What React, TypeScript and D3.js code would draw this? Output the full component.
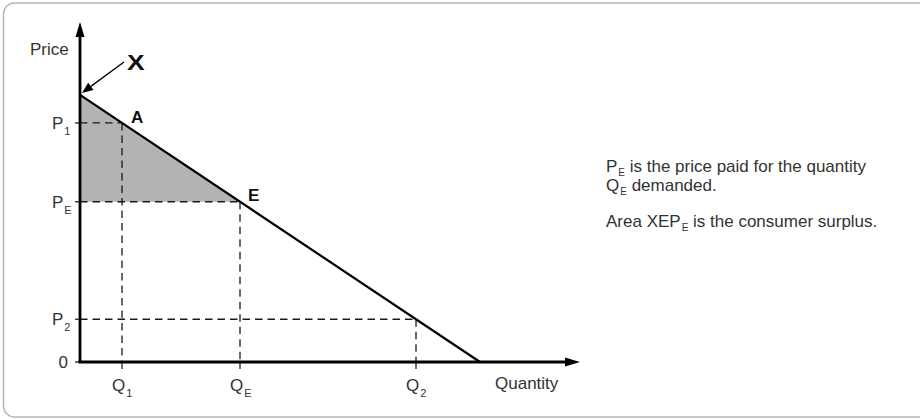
import React from "react";
import * as d3 from "d3";

// Linear demand curve P = 10 - Q
const demandIntercept = 10;
const demandPoints = [
  { q: 0, p: 10 },
  { q: 10, p: 0 },
];

// Reference quantities and their labels
const quantityLabels = ["Q1", "QE", "Q2"];
const quantityValues = [1.05, 4, 8.4];

// Horizontal price guides
const priceLabels = ["P1", "PE", "P2", "0"];
const priceValues = [8.95, 6, 1.6, 0];

// Consumer surplus region: intercept, equilibrium, price line at PE
const surplusPolygon = [
  { q: 0, p: 10 },
  { q: 4, p: 6 },
  { q: 0, p: 6 },
];

const FONT = "'Liberation Sans', Arial, Helvetica, sans-serif";
const TEXT = "#333";

function Sub({ x, y, base, sub, size = 17, subSize = 11, dy = 6 }: any) {
  return (
    <text x={x} y={y} fontFamily={FONT} fontSize={size} fill={TEXT}>
      {base}
      <tspan fontSize={subSize} dx={1} dy={dy}>{sub}</tspan>
    </text>
  );
}

export default function App() {
  const W = 920;
  const H = 419;
  const x = d3.scaleLinear().domain([0, 12.5]).range([80, 580]);
  const y = d3.scaleLinear().domain([0, 12.73]).range([362, 22]);

  const line = d3
    .line<{ q: number; p: number }>()
    .x((d) => x(d.q))
    .y((d) => y(d.p));

  const x0 = x(0);
  const y0 = y(0);
  const xEnd = x(12.5);
  const yTop = y(12.73);

  const dash = "7.5,5";

  // Arrow pointing at the demand intercept
  const tip = { x: x(0) + 2, y: y(demandIntercept) - 2 };
  const tail = { x: 124, y: 62 };
  const ang = Math.atan2(tip.y - tail.y, tip.x - tail.x);
  const ah = 11;
  const aw = 4.5;
  const bx = tip.x - ah * Math.cos(ang);
  const by = tip.y - ah * Math.sin(ang);
  const arrowHead = [
    [tip.x, tip.y],
    [bx + aw * Math.sin(ang), by - aw * Math.cos(ang)],
    [bx - aw * Math.sin(ang), by + aw * Math.cos(ang)],
  ];

  const qE = quantityValues[1];
  const pE = demandIntercept - qE;
  const q1 = quantityValues[0];
  const p1 = demandIntercept - q1;

  return (
    <svg
      width={W}
      height={H}
      style={{ position: "absolute", left: 0, top: 0, background: "#fff" }}
    >
      <rect x={3.5} y={3} width={940} height={414} rx={11} ry={11} fill="#fff" stroke="#b8b8b8" strokeWidth={1.5} />

      {/* consumer surplus */}
      <path d={line(surplusPolygon) + "Z"} fill="#b3b3b5" />

      {/* dashed guides */}
      {priceValues.slice(0, 3).map((p, i) => {
        const q = demandIntercept - p;
        return (
          <line key={"h" + i} x1={x0} x2={x(q)} y1={y(p)} y2={y(p)} stroke="#1a1a1a" strokeWidth={1.3} strokeDasharray={dash} />
        );
      })}
      {quantityValues.map((q, i) => {
        const p = demandIntercept - q;
        return (
          <line key={"v" + i} x1={x(q)} x2={x(q)} y1={y(p)} y2={y0} stroke="#1a1a1a" strokeWidth={1.3} strokeDasharray={dash} />
        );
      })}

      {/* ticks */}
      {priceValues.map((p, i) => (
        <line key={"yt" + i} x1={x0 - 5} x2={x0} y1={y(p)} y2={y(p)} stroke="#222" strokeWidth={1.3} />
      ))}
      {quantityValues.map((q, i) => (
        <line key={"xt" + i} x1={x(q)} x2={x(q)} y1={y0} y2={y0 + 7} stroke="#222" strokeWidth={1.3} />
      ))}

      {/* demand curve */}
      <path d={line(demandPoints) || ""} fill="none" stroke="#000" strokeWidth={2.2} />

      {/* axes */}
      <line x1={x0} x2={x0} y1={y0 + 1} y2={yTop + 12} stroke="#000" strokeWidth={2.8} />
      <polygon points={`${x0},${yTop} ${x0 - 4.5},${yTop + 15} ${x0 + 4.5},${yTop + 15}`} fill="#000" />
      <line x1={x0 - 1.4} x2={xEnd - 12} y1={y0} y2={y0} stroke="#000" strokeWidth={2.8} />
      <polygon points={`${xEnd},${y0} ${xEnd - 15},${y0 - 4.5} ${xEnd - 15},${y0 + 4.5}`} fill="#000" />

      {/* X pointer */}
      <line x1={tail.x} y1={tail.y} x2={bx} y2={by} stroke="#000" strokeWidth={1.3} />
      <polygon points={arrowHead.map((d) => d.join(",")).join(" ")} fill="#000" />
      <text x={127} y={70} fontFamily={FONT} fontSize={22} fontWeight="bold" fill="#111" transform="translate(127,70) scale(1.2,1) translate(-127,-70)">X</text>

      {/* point labels */}
      <text x={x(q1) + 9} y={y(p1)} fontFamily={FONT} fontSize={17} fontWeight="bold" fill="#111">A</text>
      <text x={x(qE) + 8} y={y(pE) - 1} fontFamily={FONT} fontSize={17} fontWeight="bold" fill="#111">E</text>

      {/* axis titles */}
      <text x={30} y={55} fontFamily={FONT} fontSize={17} fill={TEXT}>Price</text>
      <text x={495} y={389} fontFamily={FONT} fontSize={17} fill={TEXT}>Quantity</text>

      {/* price labels */}
      {priceLabels.map((lab, i) =>
        lab === "0" ? (
          <text key={lab} x={x0 - 12} y={y(priceValues[i]) + 6} fontFamily={FONT} fontSize={17} fill={TEXT} textAnchor="end">0</text>
        ) : (
          <Sub key={lab} x={52} y={y(priceValues[i]) + 6} base={lab[0]} sub={lab.slice(1)} />
        )
      )}

      {/* quantity labels */}
      {quantityLabels.map((lab, i) => (
        <Sub key={lab} x={x(quantityValues[i]) - 10} y={391} base={lab[0]} sub={lab.slice(1)} />
      ))}

      {/* annotation */}
      <text x={606} y={172} fontFamily={FONT} fontSize={17} fill={TEXT}>
        P<tspan fontSize={10} dx={1} dy={4}>E</tspan>
        <tspan dy={-4}> is the price paid for the quantity</tspan>
      </text>
      <text x={606} y={191} fontFamily={FONT} fontSize={17} fill={TEXT}>
        Q<tspan fontSize={10} dx={1} dy={4}>E</tspan>
        <tspan dy={-4}> demanded.</tspan>
      </text>
      <text x={606} y={227} fontFamily={FONT} fontSize={17} fill={TEXT}>
        Area XEP<tspan fontSize={10} dx={1} dy={4}>E</tspan>
        <tspan dy={-4}> is the consumer surplus.</tspan>
      </text>
    </svg>
  );
}
